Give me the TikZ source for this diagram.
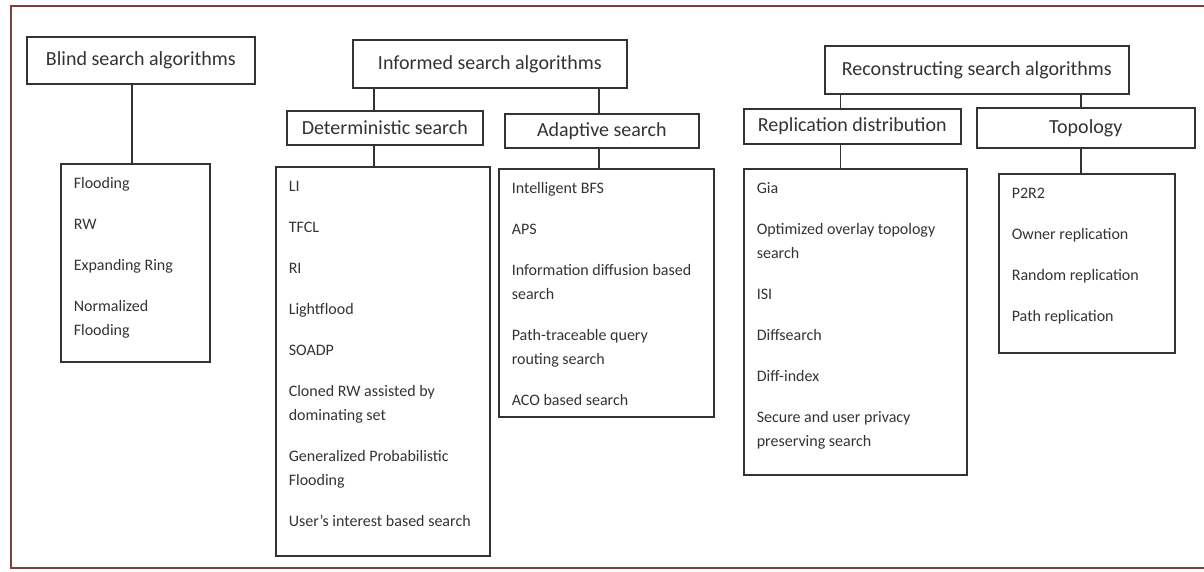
\documentclass[tikz,border=0pt]{standalone}
\usepackage{fontspec}
\setmainfont{Carlito}
\definecolor{Frame}{HTML}{7A4040}
\definecolor{Ink}{HTML}{333333}
\newcommand{\headfont}{\fontsize{10}{12}\selectfont}
\newcommand{\itemfont}{\fontsize{8}{12}\selectfont}
\newcommand{\itemgap}{8.5pt}
\newcommand{\itemlist}[3]{\begin{minipage}[c][#2][t]{#1}\raggedright\strut #3\end{minipage}}
\tikzset{head/.style={draw=Ink,line width=.8pt,anchor=north west,inner sep=0pt,font=\headfont,text=Ink},listbox/.style={draw=Ink,line width=.8pt,anchor=north west,inner xsep=6.5pt,inner ysep=4pt,font=\itemfont,text=Ink},link/.style={draw=Ink,line width=.8pt}}

\begin{document}
\begin{tikzpicture}[x=.5pt,y=-.5pt]
        \useasboundingbox (0,0) rectangle (1204,572);
        \draw[Frame,line width=1.2pt] (1204,6) -- (11,6) -- (11,568) -- (1204,568);
        % the three families
        \node[head,minimum width=114pt,minimum height=23.5pt] (blind) at (26,36) {Blind search algorithms};
        \node[head,minimum width=137pt,minimum height=24pt] (inf) at (352,39) {Informed search algorithms};
        \node[head,minimum width=152pt,minimum height=24pt] (rec) at (824,45) {Reconstructing search algorithms};
        \node[head,minimum width=98pt,minimum height=17pt] (det) at (286,110) {Deterministic search};
        \node[head,minimum width=97pt,minimum height=17pt] (ada) at (504,113) {Adaptive search};
        \node[head,minimum width=108.5pt,minimum height=17.5pt] (rep) at (743,108) {Replication distribution};
        \node[head,minimum width=109pt,minimum height=20pt] (topo) at (976,107) {Topology};
        % the lists
        \node[listbox] (blindl) at (60,163) {\itemlist{61.5pt}{91pt}{Flooding\\[\itemgap]RW\\[\itemgap]Expanding Ring\\[\itemgap]Normalized\\Flooding}};
        \node[listbox] (detl) at (275,166) {\itemlist{94pt}{186.5pt}{LI\\[\itemgap]TFCL\\[\itemgap]RI\\[\itemgap]Lightflood\\[\itemgap]SOADP\\[\itemgap]Cloned RW assisted by\\dominating set\\[\itemgap]Generalized Probabilistic\\Flooding\\[\itemgap]User's interest based search}};
        \node[listbox] (adal) at (498,168) {\itemlist{94.5pt}{116pt}{Intelligent BFS\\[\itemgap]APS\\[\itemgap]Information diffusion based\\search\\[\itemgap]Path-traceable query\\routing search\\[\itemgap]ACO based search}};
        \node[listbox] (repl) at (743,168) {\itemlist{98.5pt}{145pt}{Gia\\[\itemgap]Optimized overlay topology\\search\\[\itemgap]ISI\\[\itemgap]Diffsearch\\[\itemgap]Diff-index\\[\itemgap]Secure and user privacy\\preserving search}};
        \node[listbox] (topl) at (998,173) {\itemlist{75pt}{81.5pt}{P2R2\\[\itemgap]Owner replication\\[\itemgap]Random replication\\[\itemgap]Path replication}};
        % tree lines
        \draw[link] ([xshift=-4.5pt]blind.south) -- ([xshift=-4.5pt]blind.south |- blindl.north);
        \draw[link] ([xshift=-5.5pt]det.north) -- ([xshift=-5.5pt]det.north |- inf.south);
        \draw[link] ([xshift=-5.5pt]det.south) -- ([xshift=-5.5pt]det.south |- detl.north);
        \draw[link] ([xshift=-1.5pt]ada.north) -- ([xshift=-1.5pt]ada.north |- inf.south);
        \draw[link] ([xshift=-1.5pt]ada.south) -- ([xshift=-1.5pt]ada.south |- adal.north);
        \draw[link] ([xshift=-6pt]rep.north) -- ([xshift=-6pt]rep.north |- rec.south);
        \draw[link] ([xshift=-6pt]rep.south) -- ([xshift=-6pt]rep.south |- repl.north);
        \draw[link] ([xshift=-2.5pt]topo.north) -- ([xshift=-2.5pt]topo.north |- rec.south);
        \draw[link] ([xshift=-2.5pt]topo.south) -- ([xshift=-2.5pt]topo.south |- topl.north);
      \end{tikzpicture}
\end{document}
